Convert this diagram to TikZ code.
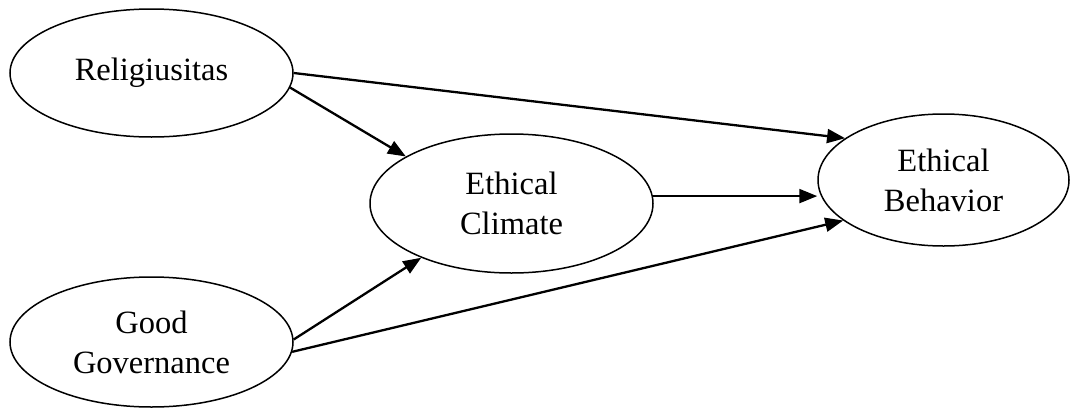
\documentclass[tikz,border=0pt]{standalone}
\usepackage{fontspec}
\setmainfont{Liberation Serif}
\usetikzlibrary{shapes.geometric,arrows.meta}
\begin{document}
\begin{tikzpicture}[x=1pt,y=-1pt,
  latent/.style={draw,ellipse,line width=1.5pt,inner sep=0pt,align=center,font=\fontsize{32.5}{40}\selectfont},
  relpath/.style={line width=2.3pt,-{Triangle[length=18pt,width=14pt]}}]
\useasboundingbox (0,0) rectangle (1071,407);
\node[latent,minimum width=283pt,minimum height=128pt] (rel) at (151.5,73) {Religiusitas};
\node[latent,minimum width=283pt,minimum height=130pt] (gg) at (151.5,342) {Good\\Governance};
\node[latent,minimum width=283pt,minimum height=139pt] (ec) at (511.5,203.5) {Ethical\\Climate};
\node[latent,minimum width=251pt,minimum height=132pt] (eb) at (943.5,180) {Ethical\\Behavior};
\draw[relpath] (rel.-0.5) -- (eb.157.4);
\draw[relpath] (rel.-6) -- (ec.156.3);
\draw[relpath] (ec.3.4) -- (ec.3.4 -| eb.west);
\draw[relpath] (gg.1) -- (ec.211.6);
\draw[relpath] (gg.-4.5) -- (eb.202.6);
\end{tikzpicture}
\end{document}
